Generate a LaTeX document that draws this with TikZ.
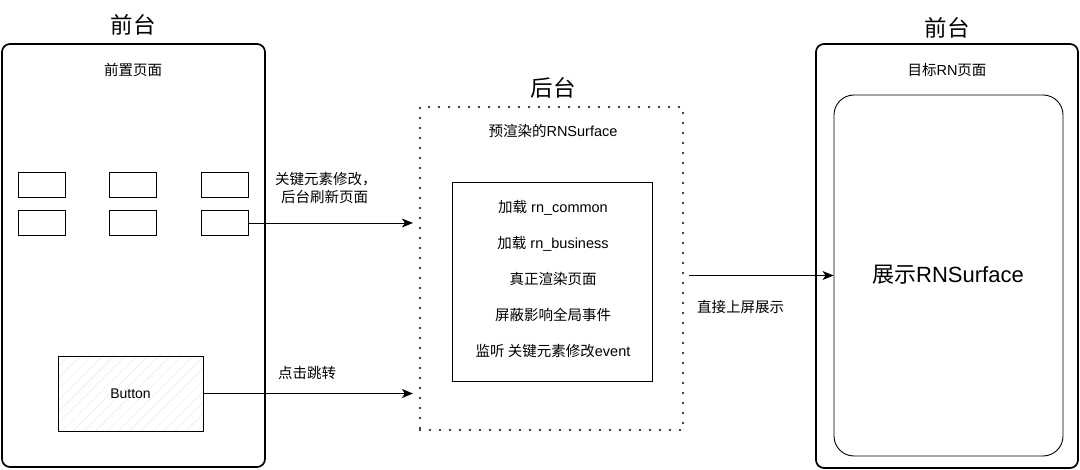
\documentclass[tikz,border=0pt]{standalone}
\usepackage{fontspec}
\setmainfont{Liberation Sans}
\newfontfamily\cjk{Noto Sans CJK SC}
\usetikzlibrary{arrows.meta,patterns.meta}
\tikzset{
  outerbox/.style={draw, line width=1.7pt, rounded corners=8pt, inner sep=0pt},
  plainbox/.style={draw, line width=0.9pt, inner sep=0pt},
  smallbox/.style={plainbox, minimum width=47pt, minimum height=25pt},
  dotbox/.style={draw, line width=2.2pt, dash pattern=on 0pt off 10pt, line cap=round, inner sep=0pt},
  title/.style={font=\fontsize{22.5}{24}\selectfont\cjk},
  txt/.style={font=\fontsize{14.5}{16}\selectfont, inner sep=0pt},
  conn/.style={line width=0.9pt, -{Stealth[length=11pt,width=9pt,inset=3pt]}},
}
\begin{document}
\begin{tikzpicture}[x=1pt,y=-1pt]
\useasboundingbox (0,0) rectangle (1080,470);
% left front page
\node[outerbox, minimum width=263pt, minimum height=423pt] (left) at (133.5,255.5) {};
\node[title] (lt) at (133,25) {前台};
\node[txt] (lp) at (133,70) {\cjk 前置页面};
\node[smallbox] (s11) at (42,185) {};
\node[smallbox] (s12) at (133,185) {};
\node[smallbox] (s13) at (225,185) {};
\node[smallbox] (s21) at (42,223) {};
\node[smallbox] (s22) at (133,223) {};
\node[smallbox] (s23) at (225,223) {};
\node[plainbox, minimum width=145pt, minimum height=75pt,
      pattern={Lines[angle=45,distance=8pt,line width=0.5pt]}, pattern color=black!9] (btn) at (130.5,393.5) {};
\node[txt, font=\fontsize{14}{15}\selectfont] at (btn) {Button};
% background
\node[dotbox, minimum width=263pt, minimum height=323pt] (bg) at (551.5,268.5) {};
\node[title] (bt) at (553,88) {后台};
\node[txt] (bp) at (553,131) {{\cjk 预渲染的}RNSurface};
\node[plainbox, minimum width=200pt, minimum height=199pt] (inner) at (552,281.5) {};
\node[txt] (i1) at (553,208) {{\cjk 加载} rn\_common};
\node[txt] (i2) at (553,244) {{\cjk 加载} rn\_business};
\node[txt] (i3) at (553,279) {\cjk 真正渲染页面};
\node[txt] (i4) at (553,315) {\cjk 屏蔽影响全局事件};
\node[txt] (i5) at (553,351) {{\cjk 监听 关键元素修改}event};
% right front page
\node[outerbox, minimum width=262pt, minimum height=424pt] (right) at (947,256) {};
\node[title] (rt) at (947,28) {前台};
\node[txt] (rp) at (947,70) {{\cjk 目标}RN{\cjk 页面}};
\node[plainbox, rounded corners=20pt, minimum width=229pt, minimum height=361pt] (rs) at (948.5,275.5) {};
\node[txt, font=\fontsize{22}{24}\selectfont] (rst) at (948,275) {{\cjk 展示}RNSurface};
% connectors
\coordinate (a1) at (bg.west |- s23.east);
\coordinate (a2) at (bg.west |- btn.east);
\coordinate (a3s) at (bg.east |- rs.west);
\draw[conn, shorten >=6pt] (s23.east) -- (a1);
\draw[conn, shorten >=6pt] (btn.east) -- (a2);
\draw[conn, shorten <=5pt] (a3s) -- (rs.west);
% labels
\node[txt, anchor=west] (l1) at (275,179) {\cjk 关键元素修改，};
\node[txt, anchor=west] (l2) at (281,197) {\cjk 后台刷新页面};
\node[txt, anchor=west] (l3) at (278,373) {\cjk 点击跳转};
\node[txt, anchor=west] (l4) at (697,307) {\cjk 直接上屏展示};
\end{tikzpicture}
\end{document}
